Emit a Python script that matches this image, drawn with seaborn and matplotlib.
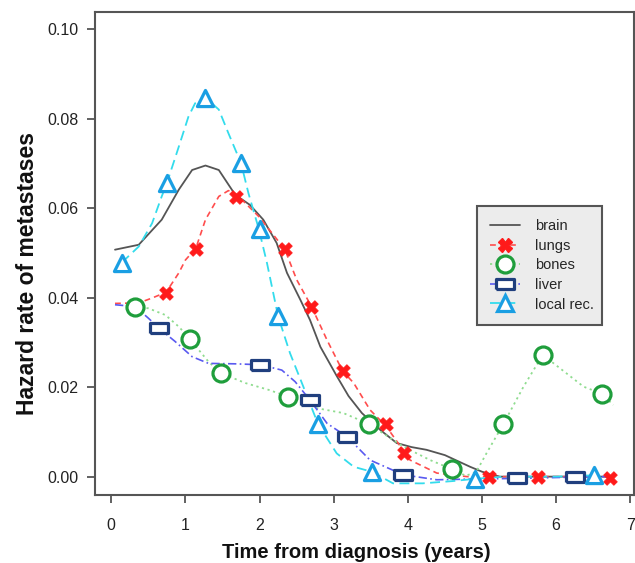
import matplotlib
matplotlib.use("Agg")
import matplotlib.pyplot as plt
from matplotlib.lines import Line2D
import seaborn as sns

# smooth hazard curves
brain_x = [0.05, 0.37, 0.68, 0.91, 1.09, 1.27, 1.45, 1.67, 1.87, 2.05, 2.23, 2.37, 2.55, 2.68, 2.82,
           3.04, 3.2, 3.38, 3.63, 3.85, 4.05, 4.25, 4.5, 4.84, 5.0, 5.24, 5.6, 6.0, 6.4, 6.75]
brain_y = [0.0507, 0.0518, 0.0574, 0.0641, 0.0685, 0.0695, 0.0685, 0.0630, 0.0607, 0.0574, 0.0522,
           0.0455, 0.0395, 0.0350, 0.0290, 0.0225, 0.0180, 0.0142, 0.0104, 0.0075, 0.0066, 0.0060,
           0.0048, 0.0022, 0.0011, 0.0, 0.0, 0.0, 0.0, 0.0]

lungs_cx = [0.05, 0.37, 0.55, 0.74, 0.91, 1.0, 1.14, 1.27, 1.45, 1.58, 1.68, 1.99, 2.34, 2.50, 2.70,
            2.91, 3.12, 3.27, 3.49, 3.71, 4.03, 4.39, 4.8, 5.2, 5.8, 6.3, 6.75]
lungs_cy = [0.0387, 0.0388, 0.0399, 0.0412, 0.0455, 0.0484, 0.0510, 0.0574, 0.0626, 0.0639, 0.0632,
            0.0581, 0.0508, 0.0440, 0.0380, 0.0305, 0.0236, 0.0209, 0.0149, 0.0112, 0.0037, 0.0008,
            0.0, 0.0, 0.0, 0.0, 0.0]

bones_cx = [0.32, 0.50, 0.73, 0.91, 1.06, 1.18, 1.31, 1.48, 1.81, 2.12, 2.38, 2.77, 3.13, 3.47, 3.94,
            4.30, 4.59, 4.78, 4.92, 5.06, 5.29, 5.56, 5.82, 6.37, 6.62, 6.77]
bones_cy = [0.0380, 0.0376, 0.0361, 0.0335, 0.0308, 0.0283, 0.0257, 0.0231, 0.0209, 0.0194, 0.0179,
            0.0153, 0.0142, 0.0118, 0.0067, 0.0037, 0.0017, 0.0002, 0.0010, 0.0052, 0.0118, 0.0201,
            0.0272, 0.0201, 0.0185, 0.0160]

liver_cx = [0.05, 0.32, 0.50, 0.64, 0.86, 1.09, 1.31, 1.67, 2.01, 2.30, 2.48, 2.68, 2.91, 3.18, 3.49,
            3.94, 4.39, 5.0, 5.5, 6.0, 6.5, 6.75]
liver_cy = [0.0384, 0.0380, 0.0354, 0.0332, 0.0302, 0.0268, 0.0253, 0.0252, 0.0250, 0.0238, 0.0212,
            0.0171, 0.0119, 0.0089, 0.0037, 0.0004, -0.0007, -0.0005, -0.0004, -0.0002, 0.0, 0.0]

local_cx = [0.14, 0.37, 0.55, 0.68, 0.75, 0.91, 1.04, 1.13, 1.26, 1.45, 1.58, 1.75, 1.85, 1.99, 2.10,
            2.25, 2.41, 2.59, 2.79, 3.04, 3.27, 3.51, 3.80, 4.2, 4.6, 4.9, 5.3, 6.0, 6.51]
local_cy = [0.0478, 0.0514, 0.0566, 0.0626, 0.0656, 0.0737, 0.0804, 0.0834, 0.0848, 0.0820, 0.0767,
            0.0700, 0.0633, 0.0553, 0.0477, 0.0358, 0.0276, 0.0201, 0.0117, 0.0052, 0.0022, 0.0011,
            -0.0015, -0.0015, -0.0010, -0.0005, 0.0, 0.0, 0.0003]

# marked points
lungs_mx = [0.74, 1.14, 1.68, 2.34, 2.70, 3.12, 3.71, 3.95, 5.09, 5.76, 6.73]
lungs_my = [0.0410, 0.0508, 0.0625, 0.0508, 0.0379, 0.0236, 0.0118, 0.0052, 0.0, 0.0, -0.0004]

bones_mx = [0.32, 1.06, 1.48, 2.38, 3.47, 4.59, 5.29, 5.82, 6.62]
bones_my = [0.0380, 0.0308, 0.0231, 0.0179, 0.0118, 0.0017, 0.0118, 0.0272, 0.0185]

liver_mx = [0.64, 2.01, 2.68, 3.18, 3.94, 5.47, 6.25]
liver_my = [0.0332, 0.0250, 0.0171, 0.0089, 0.0004, -0.0004, 0.0]

local_mx = [0.14, 0.75, 1.26, 1.75, 2.0, 2.25, 2.79, 3.51, 4.9, 6.51]
local_my = [0.0478, 0.0656, 0.0845, 0.0700, 0.0553, 0.0358, 0.0117, 0.0011, -0.0005, 0.0003]

x_ticks = [0, 1, 2, 3, 4, 5, 6, 7]
y_ticks = [0.00, 0.02, 0.04, 0.06, 0.08, 0.10]
labels = ['brain', 'lungs', 'bones', 'liver', 'local rec.']

sns.set_style('ticks')
plt.rcParams['font.family'] = ['Liberation Sans', 'DejaVu Sans']

rect = [(-1.4, -0.9), (1.4, -0.9), (1.4, 0.9), (-1.4, 0.9), (-1.4, -0.9)]

# style per series: line colour, dash, marker, marker colour, marker size (s)
styles = {
    'brain': dict(lc='#555555', ls='-', lw=1.3, m=None, mc=None, s=0),
    'lungs': dict(lc='#ff4d4d', ls=(0, (3.5, 2.5)), lw=1.2, m='X', mc='#ff1a1a', s=95),
    'bones': dict(lc='#8fdc8f', ls=(0, (1.2, 2.0)), lw=1.3, m='o', mc='#1f9e3c', s=150),
    'liver': dict(lc='#5a5af0', ls=(0, (5, 2, 1, 2)), lw=1.2, m=rect, mc='#203f7e', s=150),
    'local rec.': dict(lc='#33dcec', ls=(0, (5.5, 3)), lw=1.3, m='^', mc='#1a9fe3', s=135),
}

fig = plt.figure(figsize=(6.35, 5.63), dpi=100)
ax = fig.add_axes([0.1496, 0.1208, 0.8488, 0.8579])

curves = [(brain_x, brain_y), (lungs_cx, lungs_cy), (bones_cx, bones_cy),
          (liver_cx, liver_cy), (local_cx, local_cy)]
points = [None, (lungs_mx, lungs_my), (bones_mx, bones_my),
          (liver_mx, liver_my), (local_mx, local_my)]

for name, (cx, cy) in zip(labels, curves):
    st = styles[name]
    sns.lineplot(x=cx, y=cy, ax=ax, color=st['lc'], linestyle=st['ls'],
                 linewidth=st['lw'], sort=False, estimator=None, zorder=2)

for name, pts in zip(labels, points):
    if pts is None:
        continue
    st = styles[name]
    if name == 'lungs':
        sns.scatterplot(x=pts[0], y=pts[1], ax=ax, marker=st['m'], s=st['s'],
                        color=st['mc'], edgecolor=st['mc'], linewidth=0.6, zorder=3)
    else:
        sns.scatterplot(x=pts[0], y=pts[1], ax=ax, marker=st['m'], s=st['s'],
                        facecolor='white', edgecolor=st['mc'], linewidth=2.3, zorder=3)

ax.set_xlim(-0.22, 7.05)
ax.set_ylim(-0.0041, 0.1038)
ax.set_xticks(x_ticks)
ax.set_yticks(y_ticks)
ax.set_yticklabels([f'{v:.2f}' for v in y_ticks])
ax.tick_params(axis='both', direction='out', length=6, width=1.3, colors='#555555',
               labelcolor='#222222', labelsize=11.5)
ax.tick_params(axis='x', pad=10.5)
ax.tick_params(axis='y', pad=6)
for sp in ax.spines.values():
    sp.set_color('#555555')
    sp.set_linewidth(1.5)

ax.set_xlabel('Time from diagnosis (years)', fontsize=14.5, fontweight='bold',
              color='#111111', labelpad=7)
ax.set_ylabel('Hazard rate of metastases', fontsize=16.5, fontweight='bold',
              color='#111111', labelpad=6)
ax.xaxis.label.set_x(0.484)
ax.yaxis.label.set_y(0.458)

handles = []
for name in labels:
    st = styles[name]
    if st['m'] is None:
        h = Line2D([], [], color=st['lc'], linestyle=st['ls'], linewidth=st['lw'])
    elif name == 'lungs':
        h = Line2D([], [], color=st['lc'], linestyle=st['ls'], linewidth=st['lw'],
                   marker=st['m'], markersize=st['s'] ** 0.5, markerfacecolor=st['mc'],
                   markeredgecolor=st['mc'])
    else:
        h = Line2D([], [], color=st['lc'], linestyle=st['ls'], linewidth=st['lw'],
                   marker=st['m'], markersize=st['s'] ** 0.5, markerfacecolor='white',
                   markeredgecolor=st['mc'], markeredgewidth=2.3)
    handles.append(h)

leg = ax.legend(handles, labels, loc='center', bbox_to_anchor=(0.708, 0.348, 0.233, 0.2545),
                mode='expand', fontsize=10.5, frameon=True, fancybox=False, framealpha=1,
                borderpad=0.9, labelspacing=0.38, handlelength=2.1, handletextpad=1.0,
                borderaxespad=0)
leg.get_frame().set_facecolor('#ececec')
leg.get_frame().set_edgecolor('#555555')
leg.get_frame().set_linewidth(1.5)

fig.savefig('out.png', dpi=100)
